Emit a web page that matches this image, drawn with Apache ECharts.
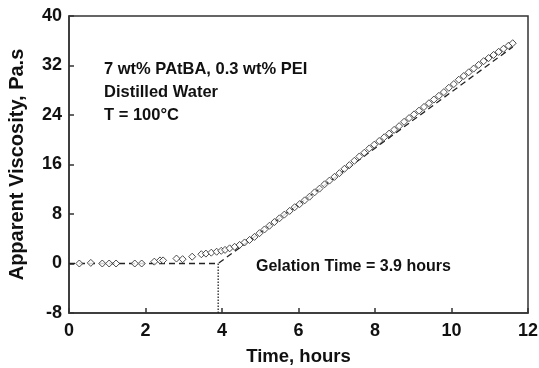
<!DOCTYPE html>
<html>
<head>
<meta charset="utf-8">
<script src="https://cdn.jsdelivr.net/npm/echarts@6/dist/echarts.min.js"></script>
<style>
html,body{margin:0;padding:0;background:#fff;}
#chart{width:539px;height:368px;}
</style>
</head>
<body>
<div id="chart"></div>
<script>
// measured viscosity (time in hours, viscosity in Pa.s)
var timeHours = [0.27,0.57,0.87,1.05,1.23,1.72,1.90,2.23,2.38,2.46,2.81,2.97,3.22,3.46,3.58,3.72,3.86,3.98,4.08,4.20,
	4.33,4.46,4.59,4.72,4.85,4.98,5.11,5.24,5.37,5.50,5.63,5.77,5.90,6.03,6.16,6.29,6.42,6.55,6.68,6.81,
	6.94,7.07,7.20,7.33,7.46,7.59,7.72,7.85,7.98,8.11,8.24,8.37,8.50,8.63,8.76,8.89,9.02,9.15,9.28,9.41,
	9.54,9.67,9.80,9.93,10.06,10.19,10.32,10.45,10.58,10.71,10.84,10.97,11.10,11.23,11.36,11.49,11.60];
var viscosity = [0.0,0.1,0.0,0.0,0.0,0.0,0.0,0.3,0.5,0.5,0.8,0.7,1.1,1.5,1.6,1.75,1.9,2.05,2.2,2.45,
	2.7,3.0,3.4,3.8,4.3,4.9,5.5,6.1,6.7,7.3,7.9,8.5,9.1,9.6,10.2,10.8,11.5,12.1,12.8,13.4,
	14.0,14.6,15.3,15.9,16.6,17.3,17.9,18.6,19.2,19.8,20.4,21.0,21.6,22.2,22.9,23.5,24.1,24.7,25.3,25.9,
	26.5,27.1,27.7,28.4,29.0,29.7,30.3,30.9,31.5,32.1,32.7,33.2,33.7,34.2,34.7,35.2,35.6];

// fitted lines
var fitX = [0, 3.9, 11.6];
var fitY = [0, 0, 35.0];
var gelX = [3.9, 3.9];
var gelY = [-8, 0];

var xTicks = [0, 2, 4, 6, 8, 10, 12];
var yTicks = [-8, 0, 8, 16, 24, 32, 40];

var fontFam = '"Liberation Sans", Arial, Helvetica, sans-serif';

function pairs(xs, ys) {
	var out = [];
	for (var i = 0; i < xs.length; i++) {
		out.push([xs[i], ys[i]]);
	}
	return out;
}

var myChart = echarts.init(document.getElementById('chart'));

var option = {
	animation: false,
	backgroundColor: '#fff',
	grid: {
		left: 69,
		right: 11,
		top: 16,
		bottom: 55,
		outerBoundsMode: 'none',
		containLabel: false,
		show: true,
		borderColor: '#333',
		borderWidth: 1.5,
		backgroundColor: 'transparent'
	},
	xAxis: {
		type: 'value',
		min: xTicks[0],
		max: xTicks[xTicks.length - 1],
		interval: 2,
		name: 'Time, hours',
		nameLocation: 'middle',
		nameGap: 34,
		nameTextStyle: { fontFamily: fontFam, fontWeight: 'bold', fontSize: 18.5, color: '#111' },
		axisLine: { show: true, onZero: false, lineStyle: { color: '#333', width: 1.5 } },
		axisTick: { show: true, inside: true, length: 5, lineStyle: { color: '#333', width: 1.5 } },
		axisLabel: { fontFamily: fontFam, fontWeight: 'bold', fontSize: 18, color: '#111', margin: 9 },
		splitLine: { show: false }
	},
	yAxis: {
		type: 'value',
		min: yTicks[0],
		max: yTicks[yTicks.length - 1],
		interval: 8,
		name: 'Apparent Viscosity, Pa.s',
		nameLocation: 'middle',
		nameGap: 42,
		nameTextStyle: { fontFamily: fontFam, fontWeight: 'bold', fontSize: 20, color: '#111' },
		axisLine: { show: true, onZero: false, lineStyle: { color: '#333', width: 1.5 } },
		axisTick: { show: true, inside: true, length: 5, lineStyle: { color: '#333', width: 1.5 } },
		axisLabel: { fontFamily: fontFam, fontWeight: 'bold', fontSize: 18, color: '#111', margin: 7 },
		splitLine: { show: false }
	},
	graphic: [
		{ type: 'text', left: 104, top: 61, style: { text: '7 wt% PAtBA, 0.3 wt% PEI', font: 'bold 16.5px ' + fontFam, fill: '#111' } },
		{ type: 'text', left: 104, top: 84, style: { text: 'Distilled Water', font: 'bold 16.5px ' + fontFam, fill: '#111' } },
		{ type: 'text', left: 104, top: 107, style: { text: 'T = 100\u00B0C', font: 'bold 16.5px ' + fontFam, fill: '#111' } },
		{ type: 'text', left: 256, top: 259, style: { text: 'Gelation Time = 3.9 hours', font: 'bold 16px ' + fontFam, fill: '#111' } }
	],
	series: [
		{
			type: 'line',
			data: pairs(fitX, fitY),
			showSymbol: false,
			symbol: 'none',
			lineStyle: { color: '#222', width: 1.3, type: [6, 4] },
			z: 2
		},
		{
			type: 'line',
			data: pairs(gelX, gelY),
			showSymbol: false,
			symbol: 'none',
			lineStyle: { color: '#222', width: 1.3, type: [1.5, 1.5] },
			z: 2
		},
		{
			type: 'scatter',
			data: pairs(timeHours, viscosity),
			symbol: 'diamond',
			symbolSize: [7, 7],
			itemStyle: { color: '#fff', borderColor: '#222', borderWidth: 1 },
			z: 3
		}
	]
};

myChart.setOption(option);
</script>
</body>
</html>
